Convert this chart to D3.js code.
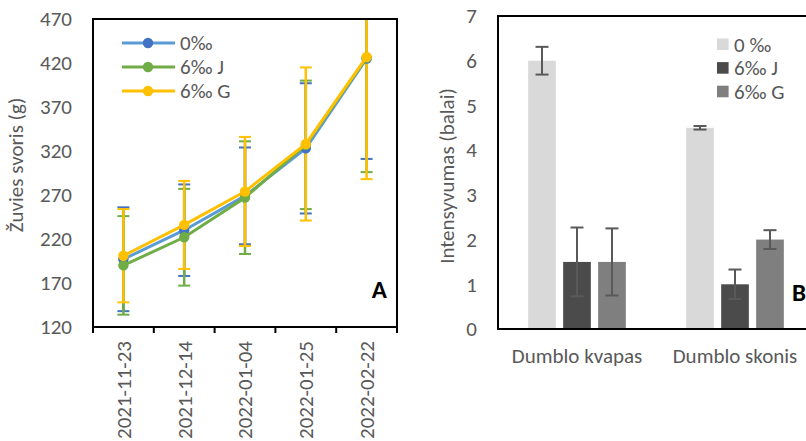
<!DOCTYPE html>
<html><head><meta charset="utf-8">
<script src="https://cdn.jsdelivr.net/npm/d3@7"></script>
<style>
body{margin:0;background:#fff}
text{font-family:Carlito,Calibri,Lato,sans-serif}
</style>
</head><body>
<svg id="c" width="806" height="441"></svg>
<script>
// ---- Chart A data ----
const dates = ["2021-11-23","2021-12-14","2022-01-04","2022-01-25","2022-02-22"];
const seriesA = ["0‰","6‰ J","6‰ G"];
const w0  = [197, 230, 269, 323, 425];
const e0  = [59, 52, 55, 74, 114];
const wJ  = [190, 222, 267, 327, 426];
const eJ  = [56, 55, 64, 73, 130];
const wG  = [201, 236, 274, 328, 427];
const eG  = [53, 50, 62, 87, 139];
const yTicksA = [120,170,220,270,320,370,420,470];

// ---- Chart B data ----
const categoriesB = ["Dumblo kvapas","Dumblo skonis"];
const seriesB = ["0 ‰","6‰ J","6‰ G"];
const b0  = [6.0, 4.5];
const b0e = [0.31, 0.04];
const bJ  = [1.5, 1.0];
const bJe = [0.77, 0.33];
const bG  = [1.5, 2.0];
const bGe = [0.75, 0.21];
const yTicksB = [0,1,2,3,4,5,6,7];

const svg = d3.select("#c");
const txtCol = "#595959";
const fs = 21;

// ================= Chart A =================
const A = {l:93, r:397, t:19, b:327};
const xA = d3.scaleBand().domain(dates).range([A.l, A.r]);
const yA = d3.scaleLinear().domain([120,470]).range([A.b, A.t]);
const colA = {line:["#5B9BD5","#70AD47","#FFC000"], mark:["#4472C4","#70AD47","#FFC000"]};
const dataA = [
  {name:seriesA[0], v:w0, e:e0},
  {name:seriesA[1], v:wJ, e:eJ},
  {name:seriesA[2], v:wG, e:eG}
];

svg.append("clipPath").attr("id","clipA").append("rect")
  .attr("x",A.l).attr("y",A.t).attr("width",A.r-A.l).attr("height",A.b-A.t);

// y axis labels
const gyA = svg.append("g").attr("transform",`translate(${A.l},0)`)
  .call(d3.axisLeft(yA).tickValues(yTicksA).tickFormat(d3.format("d")).tickSize(0).tickPadding(21));
gyA.select(".domain").remove();
gyA.selectAll("text").attr("fill",txtCol).style("font-size",fs+"px").style("font-family","Carlito,Calibri,Lato,sans-serif");

// x axis labels (rotated)
const gxA = svg.append("g");
gxA.selectAll("text").data(dates).join("text")
  .attr("transform",d=>`translate(${xA(d)+xA.bandwidth()/2},341) rotate(-90)`)
  .attr("text-anchor","end").attr("dy","0.35em")
  .attr("fill",txtCol).style("font-size",fs+"px").text(d=>d);

// tick marks at band boundaries
const bounds = dates.map(d=>xA(d)).concat([xA.range()[1]]);
svg.append("g").selectAll("line").data(bounds).join("line")
  .attr("x1",d=>d).attr("x2",d=>d).attr("y1",A.b).attr("y2",A.b+6)
  .attr("stroke","#000").attr("stroke-width",2);

// error bars
const gA = svg.append("g").attr("clip-path","url(#clipA)");
dataA.forEach((s,i)=>{
  const g = gA.append("g");
  s.v.forEach((v,j)=>{
    const cx = xA(dates[j])+xA.bandwidth()/2;
    const top = yA(v+s.e[j]), bot = yA(v-s.e[j]);
    g.append("line").attr("x1",cx).attr("x2",cx).attr("y1",top).attr("y2",bot)
      .attr("stroke",colA.mark[i]).attr("stroke-width",2.5);
    [top,bot].forEach(y=>g.append("line").attr("x1",cx-6).attr("x2",cx+6).attr("y1",y).attr("y2",y)
      .attr("stroke",colA.mark[i]).attr("stroke-width",2));
  });
});
// lines & markers
const lineA = d3.line().x((v,j)=>xA(dates[j])+xA.bandwidth()/2).y(v=>yA(v));
dataA.forEach((s,i)=>{
  gA.append("path").attr("d",lineA(s.v)).attr("fill","none")
    .attr("stroke",colA.line[i]).attr("stroke-width",3).attr("stroke-linejoin","round");
  gA.append("g").selectAll("circle").data(s.v).join("circle")
    .attr("cx",(v,j)=>xA(dates[j])+xA.bandwidth()/2).attr("cy",v=>yA(v)).attr("r",5.2)
    .attr("fill",colA.mark[i]);
});

// frame
svg.append("rect").attr("x",A.l).attr("y",A.t).attr("width",A.r-A.l).attr("height",A.b-A.t)
  .attr("fill","none").attr("stroke","#000").attr("stroke-width",2);

// legend A
const legA = svg.append("g");
dataA.forEach((s,i)=>{
  const y = 43 + i*24;
  legA.append("line").attr("x1",122).attr("x2",175).attr("y1",y).attr("y2",y)
    .attr("stroke",colA.line[i]).attr("stroke-width",3);
  legA.append("circle").attr("cx",148).attr("cy",y).attr("r",5.2).attr("fill",colA.mark[i]);
  legA.append("text").attr("x",180).attr("y",y).attr("dy","0.35em")
    .attr("fill",txtCol).style("font-size",fs+"px").text(s.name);
});

// y label A
svg.append("text").attr("transform","translate(16,165) rotate(-90)")
  .attr("text-anchor","middle").attr("dy","0.35em")
  .attr("fill",txtCol).style("font-size",fs+"px").text("Žuvies svoris (g)");

svg.append("text").attr("x",387).attr("y",298).attr("text-anchor","end")
  .style("font-size","25px").style("font-weight","bold").attr("fill","#000").text("A");

// ================= Chart B =================
const B = {l:498, r:814, t:16, b:329};
const x0 = d3.scaleBand().domain(categoriesB).range([B.l,B.r]).paddingInner(0.382).paddingOuter(0.191);
const x1 = d3.scaleBand().domain(seriesB).range([0,x0.bandwidth()]).paddingInner(0.2086);
const yB = d3.scaleLinear().domain([0,7]).range([B.b,B.t]);
const colB = ["#D9D9D9","#4B4B4B","#7F7F7F"];
const dataB = [
  {name:seriesB[0], v:b0, e:b0e},
  {name:seriesB[1], v:bJ, e:bJe},
  {name:seriesB[2], v:bG, e:bGe}
];

const gyB = svg.append("g").attr("transform",`translate(${B.l},0)`)
  .call(d3.axisLeft(yB).tickValues(yTicksB).tickFormat(d3.format("d")).tickSize(0).tickPadding(21));
gyB.select(".domain").remove();
gyB.selectAll("text").attr("fill",txtCol).style("font-size",fs+"px").style("font-family","Carlito,Calibri,Lato,sans-serif");

const gB = svg.append("g");
dataB.forEach((s,i)=>{
  s.v.forEach((v,j)=>{
    const x = x0(categoriesB[j]) + x1(s.name);
    gB.append("rect").attr("x",x).attr("y",yB(v)).attr("width",x1.bandwidth())
      .attr("height",yB(0)-yB(v)).attr("fill",colB[i]);
  });
});
dataB.forEach((s,i)=>{
  s.v.forEach((v,j)=>{
    const cx = x0(categoriesB[j]) + x1(s.name) + x1.bandwidth()/2;
    const top = yB(v+s.e[j]), bot = yB(v-s.e[j]);
    gB.append("line").attr("x1",cx).attr("x2",cx).attr("y1",top).attr("y2",bot)
      .attr("stroke","#595959").attr("stroke-width",2);
    [top,bot].forEach(y=>gB.append("line").attr("x1",cx-6.5).attr("x2",cx+6.5).attr("y1",y).attr("y2",y)
      .attr("stroke","#595959").attr("stroke-width",2));
  });
});

// category labels
svg.append("g").selectAll("text").data(categoriesB).join("text")
  .attr("x",d=>x0(d)+x0.bandwidth()/2).attr("y",363).attr("text-anchor","middle")
  .attr("fill",txtCol).style("font-size",fs+"px").text(d=>d);

svg.append("rect").attr("x",B.l).attr("y",B.t).attr("width",B.r-B.l).attr("height",B.b-B.t)
  .attr("fill","none").attr("stroke","#000").attr("stroke-width",2);

// legend B
const legB = svg.append("g");
dataB.forEach((s,i)=>{
  const y = 44.3 + i*23.6;
  legB.append("rect").attr("x",717).attr("y",y-5.8).attr("width",11.6).attr("height",11.6).attr("fill",colB[i]);
  legB.append("text").attr("x",734).attr("y",y).attr("dy","0.35em")
    .attr("fill",txtCol).style("font-size",fs+"px").text(s.name);
});

svg.append("text").attr("transform","translate(447,176) rotate(-90)")
  .attr("text-anchor","middle").attr("dy","0.35em")
  .attr("fill",txtCol).style("font-size",fs+"px").text("Intensyvumas (balai)");

svg.append("text").attr("x",792).attr("y",301)
  .style("font-size","25px").style("font-weight","bold").attr("fill","#000").text("B");
</script>
</body></html>
